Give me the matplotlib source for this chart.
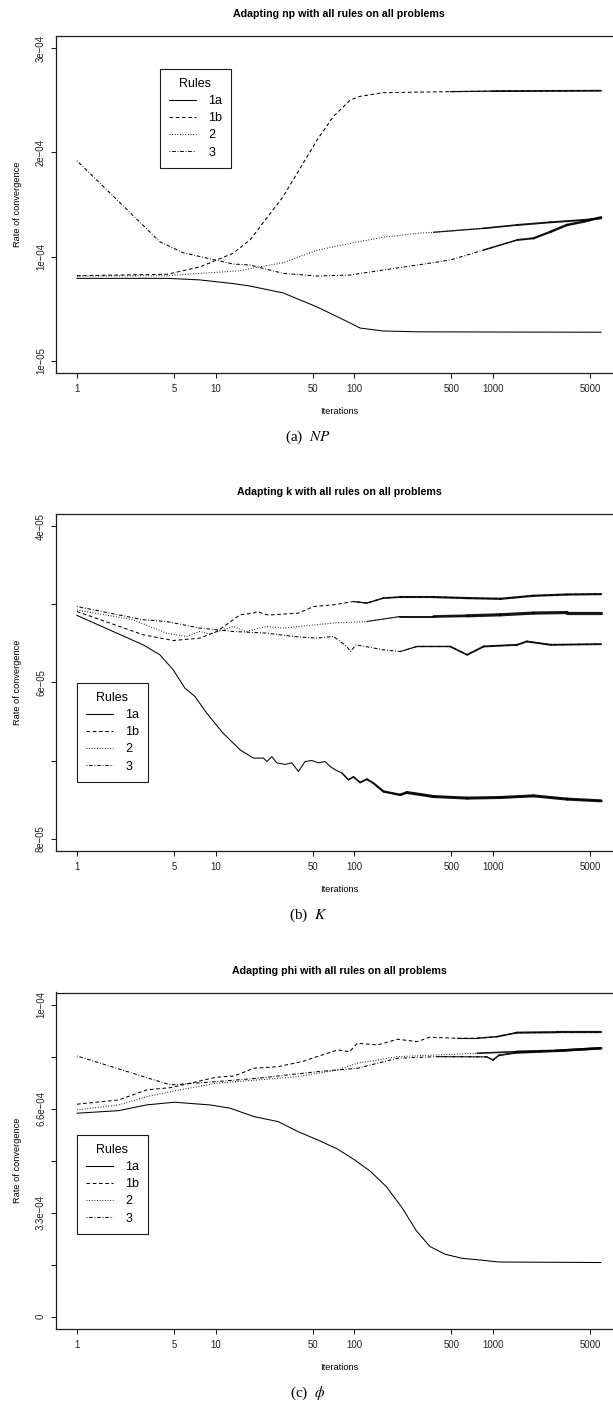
import math
import matplotlib
matplotlib.use("Agg")
import matplotlib.pyplot as plt
from matplotlib.lines import Line2D
from matplotlib.collections import LineCollection

plt.rcParams['font.family'] = ['Liberation Sans', 'DejaVu Sans']
plt.rcParams['mathtext.fontset'] = 'stix'
plt.rcParams['lines.scale_dashes'] = False

FIG_W, FIG_H = 613, 1412

# ---------------------------------------------------------------- data
rules = ['1a', '1b', '2', '3']
x_ticks = [1, 5, 10, 50, 100, 500, 1000, 5000]
x_tick_labels = ['1', '5', '10', '50', '100', '500', '1000', '5000']

# Panel (a): adapting np -- rate on the tick-index scale
np_y_ticks = [0, 1, 2, 3]
np_y_labels = ['1e\u221205', '1e\u221204', '2e\u221204', '3e\u221204']
np_1a_iter = [1, 4.5, 7.7, 13.3, 17.7, 30.6, 53.8, 93.5, 110, 161, 284, 1000, 6000]
np_1a_rate = [0.79, 0.79, 0.775, 0.74, 0.716, 0.65, 0.515, 0.36, 0.312, 0.284, 0.276, 0.274, 0.272]
np_1b_iter = [1, 4.5, 7.7, 13.3, 17.7, 30.6, 53.8, 70.3, 93.5, 110, 161, 490, 1000, 6000]
np_1b_rate = [0.815, 0.83, 0.9, 1.03, 1.16, 1.575, 2.12, 2.344, 2.505, 2.54, 2.575, 2.585, 2.59,
              2.594]
np_2_iter = [1, 4.5, 7.7, 15, 17.7, 30.6, 53.8, 93.5, 161, 284, 372, 855, 1490, 2594, 4487, 6000]
np_2_rate = [0.812, 0.815, 0.838, 0.863, 0.884, 0.94, 1.06, 1.127, 1.185, 1.223, 1.233, 1.271,
             1.303, 1.329, 1.351, 1.367]
np_3_iter = [1, 3.96, 5.8, 13.3, 17.7, 30.6, 53.8, 93.5, 161, 284, 490, 855, 1490, 1955, 2594,
             3400, 4487, 6000]
np_3_rate = [1.921, 1.142, 1.037, 0.928, 0.918, 0.838, 0.8125, 0.822, 0.87, 0.918, 0.966, 1.0625,
             1.159, 1.175, 1.238, 1.303, 1.335, 1.377]

# Panel (b): adapting k -- rate in units of 1e-05 (axis reversed)
k_y_ticks = [4, 5, 6, 7, 8]
k_y_labels = ['4e\u221205', '', '6e\u221205', '', '8e\u221205']
k_1a_iter = [1, 3.0, 3.96, 4.94, 6.0, 7.09, 8.61, 11.3, 15.0, 18.7, 22.1, 23.4, 25.4, 27.6, 31.6,
             35.4, 39.5, 44.1, 49.3, 55.0, 61.5, 66.9, 72.8, 81.3, 90.6, 98.5, 110, 123, 137, 162,
             214, 239, 373, 649, 1129, 1955, 3420, 6000]
k_1a_rate = [5.14, 5.517, 5.645, 5.837, 6.072, 6.179, 6.392, 6.649, 6.863, 6.969, 6.969, 7.013,
             6.95, 7.03, 7.05, 7.03, 7.141, 7.013, 7.0, 7.03, 7.013, 7.077, 7.12, 7.16, 7.247, 7.21,
             7.282, 7.24, 7.29, 7.397, 7.44, 7.41, 7.462, 7.482, 7.474, 7.453, 7.495, 7.517]
k_1b_iter = [1, 3.0, 4.94, 7.7, 10.2, 15.0, 18.7, 19.8, 23.4, 26.0, 39.5, 50.7, 70.6, 98.6, 123,
             162, 214, 373, 649, 1129, 1955, 3420, 6000]
k_1b_rate = [5.09, 5.388, 5.462, 5.431, 5.346, 5.132, 5.11, 5.09, 5.132, 5.132, 5.11, 5.026, 5.004,
             4.962, 4.982, 4.918, 4.905, 4.905, 4.918, 4.927, 4.888, 4.872, 4.867]
k_2_iter = [1, 2.54, 4.43, 6.17, 7.7, 9.1, 13.4, 16.7, 23.4, 30.7, 39.5, 70.6, 123, 214, 373, 649,
            1129, 1955, 3420, 6000]
k_2_rate = [5.07, 5.196, 5.367, 5.41, 5.346, 5.38, 5.282, 5.346, 5.282, 5.303, 5.282, 5.238, 5.218,
            5.154, 5.154, 5.145, 5.132, 5.11, 5.103, 5.103]
k_3_iter = [1, 3.0, 4.43, 7.7, 13.4, 23.4, 36.3, 53.7, 70.6, 88.2, 93.5, 103, 162, 214, 283, 490,
            649, 855, 1490, 1750, 2594, 6000]
k_3_rate = [5.026, 5.196, 5.218, 5.303, 5.346, 5.367, 5.41, 5.431, 5.41, 5.538, 5.603, 5.517, 5.581,
            5.603, 5.538, 5.538, 5.645, 5.538, 5.517, 5.474, 5.517, 5.508]

# Panel (c): adapting phi -- rate on the tick-index scale
phi_y_ticks = [0, 1, 2, 3, 4, 5, 6]
phi_y_labels = ['0', '', '3.3e\u221204', '', '6.6e\u221204', '', '1e\u221204']
phi_1a_iter = [1, 2.0, 3.17, 5.04, 9.12, 12.7, 18.9, 28.2, 39.2, 54.4, 75, 100, 130, 170, 220,
               280, 350, 450, 600, 800, 1100, 6000]
phi_1a_rate = [3.915, 3.965, 4.075, 4.127, 4.075, 4.012, 3.85, 3.754, 3.561, 3.401, 3.23, 3.02,
               2.8, 2.5, 2.1, 1.65, 1.35, 1.2, 1.12, 1.09, 1.05, 1.04]
phi_1b_iter = [1, 2.0, 3.17, 4.72, 10.1, 13.6, 18.9, 28.2, 41.8, 75.7, 92.4, 105, 147, 204, 285,
               347, 551, 767, 1067, 1486, 2878, 6000]
phi_1b_rate = [4.089, 4.171, 4.364, 4.408, 4.608, 4.633, 4.782, 4.812, 4.909, 5.134, 5.101, 5.263,
               5.23, 5.34, 5.294, 5.378, 5.359, 5.359, 5.39, 5.467, 5.475, 5.475]
phi_2_iter = [1, 2.0, 3.17, 4.72, 10.1, 20.2, 39.2, 75.7, 105, 147, 204, 396, 767, 1486, 2878, 6000]
phi_2_rate = [3.979, 4.075, 4.235, 4.331, 4.493, 4.556, 4.62, 4.749, 4.878, 4.941, 5.005, 5.037,
              5.07, 5.101, 5.12, 5.167]
phi_3_iter = [1, 4.72, 10.1, 20.2, 54.4, 105, 204, 396, 900, 1000, 1100, 1486, 2878, 6000]
phi_3_rate = [5.018, 4.46, 4.524, 4.589, 4.716, 4.781, 4.974, 5.005, 5.0, 4.94, 5.03, 5.082,
              5.115, 5.167]

# ---------------------------------------------------------------- styling
line_styles = {
    '1a': '-',
    '1b': (0, (2.6, 1.9)),
    '2': (0, (0.6, 1.3)),
    '3': (0, (0.6, 1.3, 2.6, 1.3)),
}
INK = '#1a1a1a'
LW = 0.75
RAMP_DECADES = 0.6


def px_axes(left, top, right, bottom):
    return fig.add_axes([left / FIG_W, 1 - bottom / FIG_H,
                         (right - left) / FIG_W, (bottom - top) / FIG_H])


def fig_text(x, y, s, **kw):
    fig.text(x / FIG_W, 1 - y / FIG_H, s, ha='center', va='center', **kw)


def dense_tail(ax, it, rate, start, width):
    """Late iterations form a tight band of per-step values: draw that part
    as a solid stroke that thickens gradually from the thin trace."""
    idx = [k for k, i in enumerate(it) if i >= start]
    if not idx:
        return
    k0 = max(idx[0] - 1, 0)
    segs, widths = [], []
    for k in range(k0, len(it) - 1):
        segs.append([(it[k], rate[k]), (it[k + 1], rate[k + 1])])
        mid = math.sqrt(it[k] * it[k + 1])
        frac = min(1.0, max(0.0, math.log10(mid / start) / RAMP_DECADES + 0.15))
        widths.append(LW + (width - LW) * frac)
    ax.add_collection(LineCollection(segs, colors='black', linewidths=widths,
                                     capstyle='round', joinstyle='round', alpha=0.9))


fig = plt.figure(figsize=(FIG_W / 100, FIG_H / 100), dpi=100)

# "dense": iteration from which a trace is a tight band, and its width (points)
panels = [
    dict(top=36, bottom=373, title='Adapting np with all rules on all problems',
         series={'1a': (np_1a_iter, np_1a_rate), '1b': (np_1b_iter, np_1b_rate),
                 '2': (np_2_iter, np_2_rate), '3': (np_3_iter, np_3_rate)},
         dense={'1b': (600, 1.3), '2': (500, 1.4), '3': (900, 1.8)},
         yticks=np_y_ticks, ylabels=np_y_labels, ylim=(-0.12, 3.12),
         legend=(160, 69), caption=r'(a)  $NP$'),
    dict(top=514, bottom=851, title='Adapting k with all rules on all problems',
         series={'1a': (k_1a_iter, k_1a_rate), '1b': (k_1b_iter, k_1b_rate),
                 '2': (k_2_iter, k_2_rate), '3': (k_3_iter, k_3_rate)},
         dense={'1a': (90, 2.2), '1b': (100, 1.6), '2': (200, 2.3), '3': (250, 1.4)},
         yticks=k_y_ticks, ylabels=k_y_labels, ylim=(8.16, 3.84),
         legend=(77, 683), caption=r'(b)  $K$'),
    dict(top=992.5, bottom=1329, title='Adapting phi with all rules on all problems',
         series={'1a': (phi_1a_iter, phi_1a_rate), '1b': (phi_1b_iter, phi_1b_rate),
                 '2': (phi_2_iter, phi_2_rate), '3': (phi_3_iter, phi_3_rate)},
         dense={'1b': (700, 1.6), '2': (800, 1.8), '3': (800, 1.8)},
         yticks=phi_y_ticks, ylabels=phi_y_labels, ylim=(-0.24, 6.24),
         legend=(77, 1135), caption=r'(c)  $\phi$'),
]

AX_LEFT, AX_RIGHT = 56, 622
X_CENTER = (AX_LEFT + AX_RIGHT) / 2

for p in panels:
    ax = px_axes(AX_LEFT, p['top'], AX_RIGHT, p['bottom'])
    for r in rules:
        it, rate = p['series'][r]
        ax.plot(it, rate, color='black', lw=LW, linestyle=line_styles[r])
        if r in p['dense']:
            dense_tail(ax, it, rate, *p['dense'][r])
    ax.set_xscale('log')
    ax.set_xlim(10 ** -0.151, 10 ** 3.929)
    ax.set_ylim(*p['ylim'])
    ax.set_xticks(x_ticks)
    ax.set_xticklabels(x_tick_labels)
    ax.xaxis.set_minor_locator(matplotlib.ticker.NullLocator())
    ax.set_yticks(p['yticks'])
    ax.set_yticklabels(p['ylabels'], rotation=90, va='center')
    ax.tick_params(axis='both', direction='out', length=3.6, width=0.75, color=INK,
                   labelsize=6.9, labelcolor='#222222')
    ax.tick_params(axis='x', pad=4.0)
    ax.tick_params(axis='y', pad=3.6)
    for sp in ax.spines.values():
        sp.set_linewidth(0.9)
        sp.set_color(INK)

    handles = [Line2D([], [], color='black', lw=LW, linestyle=line_styles[r]) for r in rules]
    lx, ly = p['legend']
    leg = ax.legend(handles, rules, title='Rules', loc='upper left',
                    bbox_to_anchor=(lx / FIG_W, 1 - ly / FIG_H),
                    bbox_transform=fig.transFigure, borderaxespad=0,
                    fontsize=9, title_fontsize=9, frameon=True, fancybox=False,
                    edgecolor=INK, framealpha=1, handlelength=2.2, handletextpad=0.95,
                    labelspacing=0.42, borderpad=0.7)
    leg.get_frame().set_linewidth(0.8)

    fig_text(X_CENTER, p['top'] - 22, p['title'], fontsize=7.7, fontweight='bold')
    fig_text(X_CENTER, p['bottom'] + 38, 'Iterations', fontsize=6.7)
    fig_text(18, (p['top'] + p['bottom']) / 2, 'Rate of convergence', fontsize=6.7, rotation=90)
    fig_text(308, p['bottom'] + 64, p['caption'], fontsize=11,
             fontfamily='Liberation Serif')

fig.savefig('out.png', dpi=100)
